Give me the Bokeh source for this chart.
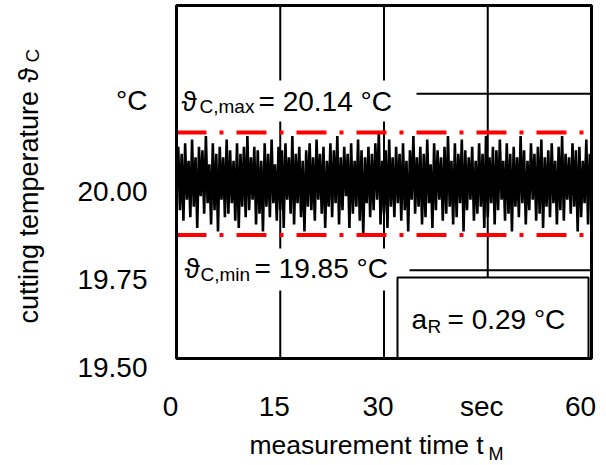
import math
import numpy as np
from bokeh.plotting import figure
from bokeh.models import Range1d, Label
from bokeh.embed import file_html
from bokeh.resources import INLINE

# ---------------- data ----------------
temps = [
    20.03, 20.10, 19.92, 20.08, 19.89, 20.11, 19.95, 20.06, 19.90, 20.12,
    19.93, 20.07, 19.87, 20.10, 19.96, 20.09, 19.91, 20.13, 19.94, 20.05,
    19.88, 20.11, 19.92, 20.08, 19.86, 20.10, 19.95, 20.07, 19.90, 20.12,
    19.91, 20.09, 19.94, 20.06, 19.89, 20.11, 19.87, 20.08, 19.93, 20.10,
    19.90, 20.13, 19.92, 20.07, 19.95, 20.10, 19.88, 20.09, 19.91, 20.06,
    19.86, 20.11, 19.93, 20.08, 19.90, 20.12, 19.94, 20.05, 19.89, 20.10,
    19.92, 20.09, 19.87, 20.11, 19.95, 20.07, 19.91, 20.13, 19.88, 20.08,
    19.94, 20.10, 19.90, 20.06, 19.86, 20.09, 19.93, 20.11, 19.92, 20.07,
    19.89, 20.12, 19.95, 20.08, 19.91, 20.10, 19.87, 20.06, 19.93, 20.11,
    19.90, 20.09, 19.94, 20.13, 19.88, 20.07, 19.92, 20.10, 19.96, 20.08,
    19.87, 20.11, 19.91, 20.06, 19.93, 20.12, 19.89, 20.09, 19.85, 20.07,
    19.94, 20.10, 19.90, 20.08, 19.92, 20.11, 19.95, 20.14, 19.88, 20.06,
    19.91, 20.09, 19.87, 20.12, 19.93, 20.07, 19.90, 20.10, 19.94, 20.08,
    19.89, 20.11, 19.92, 20.06, 19.86, 20.09, 19.95, 20.13, 19.91, 20.07,
    19.93, 20.10, 19.88, 20.08, 19.90, 20.12, 19.94, 20.05, 19.87, 20.11,
    19.92, 20.09, 19.95, 20.07, 19.89, 20.10, 19.91, 20.13, 19.93, 20.06,
    19.88, 20.11, 19.90, 20.08, 19.94, 20.12, 19.86, 20.09, 19.92, 20.07,
    19.95, 20.10, 19.89, 20.06, 19.91, 20.11, 19.93, 20.08, 19.87, 20.13,
    19.90, 20.07, 19.94, 20.10, 19.88, 20.09, 19.92, 20.12, 19.95, 20.06,
    19.89, 20.11, 19.91, 20.08, 19.86, 20.10, 19.93, 20.07, 19.90, 20.13,
    19.94, 20.09, 19.88, 20.06, 19.92, 20.11, 19.95, 20.08, 19.89, 20.10,
    19.91, 20.12, 19.87, 20.07, 19.93, 20.09, 19.90, 20.11, 19.94, 20.06,
    19.88, 20.10, 19.92, 20.13, 19.89, 20.08, 19.95, 20.07, 19.91, 20.11,
    19.93, 20.09, 19.86, 20.10, 19.90, 20.06, 19.94, 20.12, 19.88, 20.08,
    19.95,
]
t_start, t_end = 0, 60
times = np.linspace(t_start, t_end, len(temps))

x_ticks = [0, 15, 30, 45, 60]
x_tick_labels = ["0", "15", "30", "sec", "60"]
y_ticks = [19.50, 19.75, 20.00, 20.25]
y_tick_labels = ["19.50", "19.75", "20.00", "°C"]
y_lo, y_hi = 19.50, 20.50

t_max = 20.14
t_min = 19.85
a_R = round(t_max - t_min, 2)

FONT = "Liberation Sans"

# ---------------- layout (pixels) ----------------
W, H = 606, 465
box_l, box_r, box_t, box_b = 176, 591, 5, 358
kx = (box_r - box_l) / (t_end - t_start)
ky = (box_b - box_t) / (y_hi - y_lo)
x_range = Range1d(t_start - box_l / kx, t_end + (W - box_r) / kx)
y_range = Range1d(y_lo - (H - box_b) / ky, y_hi + box_t / ky)


def dx(px):
    return t_start + (px - box_l) / kx


def dy(py):
    return y_hi - (py - box_t) / ky


p = figure(width=W, height=H, output_backend="svg", toolbar_location=None,
           x_range=x_range, y_range=y_range,
           min_border=0, min_border_left=0, min_border_right=0,
           min_border_top=0, min_border_bottom=0)
p.xaxis.visible = False
p.yaxis.visible = False
p.xgrid.visible = False
p.ygrid.visible = False
p.background_fill_color = "white"
p.border_fill_color = "white"
p.outline_line_color = None

# grid lines inside the plot box
gx = x_ticks[1:-1]
p.segment(x0=gx, y0=[y_lo] * len(gx), x1=gx, y1=[y_hi] * len(gx),
          line_color="black", line_width=2)
gy = y_ticks[1:]
p.segment(x0=[t_start] * len(gy), y0=gy, x1=[t_end] * len(gy), y1=gy,
          line_color="black", line_width=2)

# white boxes behind the max/min labels
p.quad(left=[t_start, t_start], right=[dx(416), dx(409)],
       bottom=[dy(121), dy(290)], top=[dy(80), dy(248)],
       fill_color="white", line_color=None)

# signal
p.line(times, temps, line_color="black", line_width=2.6)

# max / min lines
for v in (t_max, t_min):
    p.line([t_start, t_end], [v, v], line_color="#ff0000",
           line_width=4, line_dash="30 13 4 13")

# a_R box
p.quad(left=[dx(397)], right=[dx(588)], bottom=[y_lo], top=[dy(277)],
       fill_color="white", line_color="black", line_width=2)

# plot box outline
p.quad(left=[t_start], right=[t_end], bottom=[y_lo], top=[y_hi],
       fill_color=None, line_color="black", line_width=3)

BASE_FIX = 9  # renderer places alphabetic baselines this many px lower


def lab(text, x, y, xo, yo, size, align="left", baseline="alphabetic", angle=0.0):
    if baseline == "alphabetic":
        if angle == 0.0:
            yo += BASE_FIX
        else:
            xo -= BASE_FIX
    p.add_layout(Label(x=x, y=y, x_offset=xo, y_offset=yo, text=text,
                       text_font=FONT, text_font_size=f"{size}px", text_color="black",
                       text_align=align, text_baseline=baseline, angle=angle))


# y tick labels
for v, s in zip(y_ticks, y_tick_labels):
    lab(s, t_start, v, -29, -7 if s == "°C" else -9, 28, "right", "middle")

# x tick labels
for v, s in zip(x_ticks, x_tick_labels):
    lab(s, v, y_lo, -11 if v == t_end else -6, -48, 28, "center", "middle")

# x axis title
lab("measurement time t", t_start, y_lo, 73, -95, 26.5)
lab("M", t_start, y_lo, 312, -104, 18)

# y axis title (rotated)
lab("cutting temperature", t_start, y_lo, -139, 35, 27, angle=math.pi / 2)
lab("ϑ", t_start, y_lo, -139, 276, 27, angle=math.pi / 2)
lab("C", t_start, y_lo, -135, 296, 19, angle=math.pi / 2)

# max label
lab("ϑ", t_start, t_max, 5, 22, 28)
lab("C,max", t_start, t_max, 23, 17, 19)
lab(f"= {t_max:.2f} °C", t_start, t_max, 82, 22, 28)

# min label
lab("ϑ", t_start, t_min, 8, -43, 28)
lab("C,min", t_start, t_min, 24, -49, 19)
lab(f"= {t_min:.2f} °C", t_start, t_min, 78, -43, 28)

# range label
lab("a", t_start, y_lo, 235, 30, 28)
lab("R", t_start, y_lo, 251, 23, 19)
lab(f"= {a_R:.2f} °C", t_start, y_lo, 271, 30, 28)

open("out.html", "w").write(file_html(p, INLINE))
